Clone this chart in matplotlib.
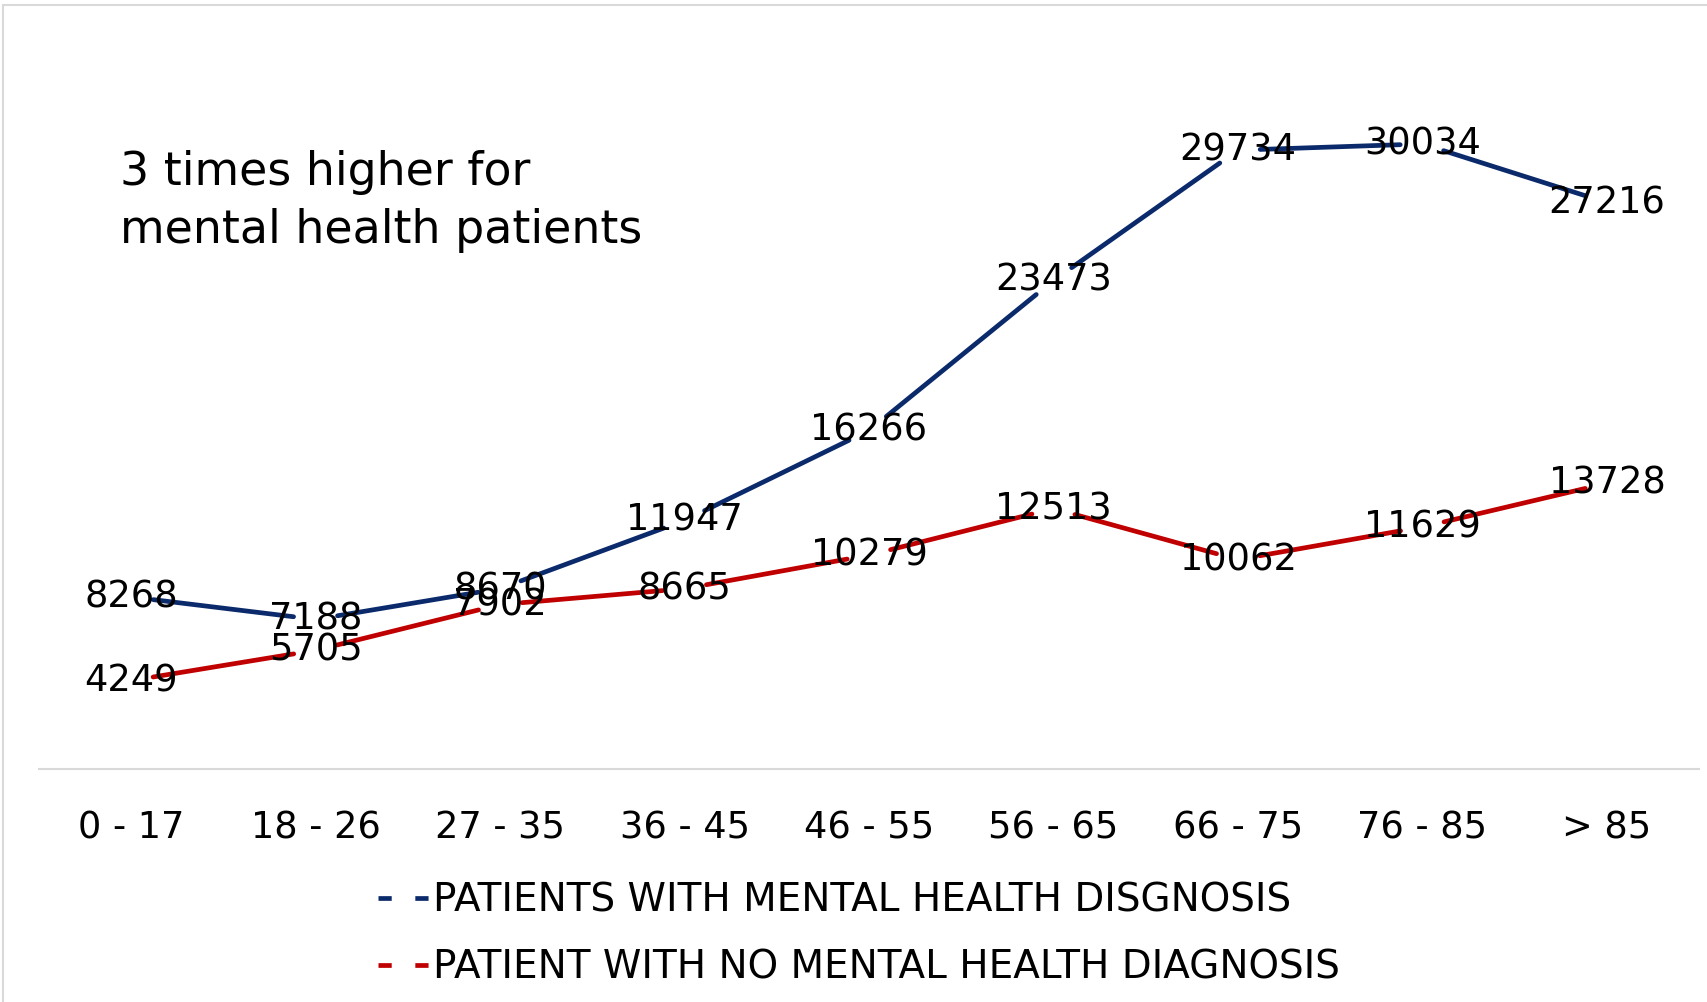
import matplotlib
matplotlib.use("Agg")
import matplotlib.pyplot as plt
from matplotlib.lines import Line2D
from matplotlib.patches import Rectangle

age_groups = ["0 - 17", "18 - 26", "27 - 35", "36 - 45", "46 - 55",
              "56 - 65", "66 - 75", "76 - 85", "> 85"]
mental = [8268, 7188, 8670, 11947, 16266, 23473, 29734, 30034, 27216]
no_mental = [4249, 5705, 7902, 8665, 10279, 12513, 10062, 11629, 13728]

series_names = ["PATIENTS WITH MENTAL HEALTH DISGNOSIS",
                "PATIENT WITH NO MENTAL HEALTH DIAGNOSIS"]
navy = "#0b2a6b"
red = "#c00000"

plt.rcParams["font.family"] = ["DejaVu Sans"]

fig = plt.figure(figsize=(17.08, 10.02), dpi=100)
ax = fig.add_axes([0.0228, 0.2325, 0.972, 0.727])

# light grey outer frame of the chart box
fig.patches.append(Rectangle((0.002, -0.1), 1.2, 1.095, transform=fig.transFigure,
                             fill=False, edgecolor="#d9d9d9", lw=1.5))


def draw_series(vals, color):
    # each segment is drawn shortened at both ends, leaving a gap round the points
    for i in range(len(vals) - 1):
        ax.annotate("", xy=(i + 1, vals[i + 1]), xytext=(i, vals[i]),
                    arrowprops=dict(arrowstyle="-", color=color, lw=3.4,
                                    shrinkA=16, shrinkB=16))
    for i, v in enumerate(vals):
        ax.text(i, v, str(v), ha="center", va="center", fontsize=26.5,
                color="black", zorder=5)


draw_series(mental, navy)
draw_series(no_mental, red)

ax.set_xlim(-0.5, len(age_groups) - 0.5)
ax.set_ylim(0, 35000)
ax.set_xticks(range(len(age_groups)))
ax.set_xticklabels(age_groups, fontsize=26.5)
ax.set_yticks([])
ax.tick_params(axis="x", length=0, pad=29)
for side in ["top", "right", "left"]:
    ax.spines[side].set_visible(False)
ax.spines["bottom"].set_color("#d9d9d9")
ax.spines["bottom"].set_linewidth(1.5)

fig.text(0.070, 0.799, "3 times higher for\nmental health patients",
         fontsize=33, ha="left", va="center", linespacing=1.38)

handles = [Line2D([], [], color=navy, lw=3.4, linestyle=(0, (2.8, 5))),
           Line2D([], [], color=red, lw=3.4, linestyle=(0, (2.8, 5)))]
fig.legend(handles, series_names, loc="center left",
           bbox_to_anchor=(0.201, 0.068), frameon=False, fontsize=28,
           handlelength=1.4, handletextpad=0.0, labelspacing=0.75)

fig.savefig("out.png", dpi=100)
